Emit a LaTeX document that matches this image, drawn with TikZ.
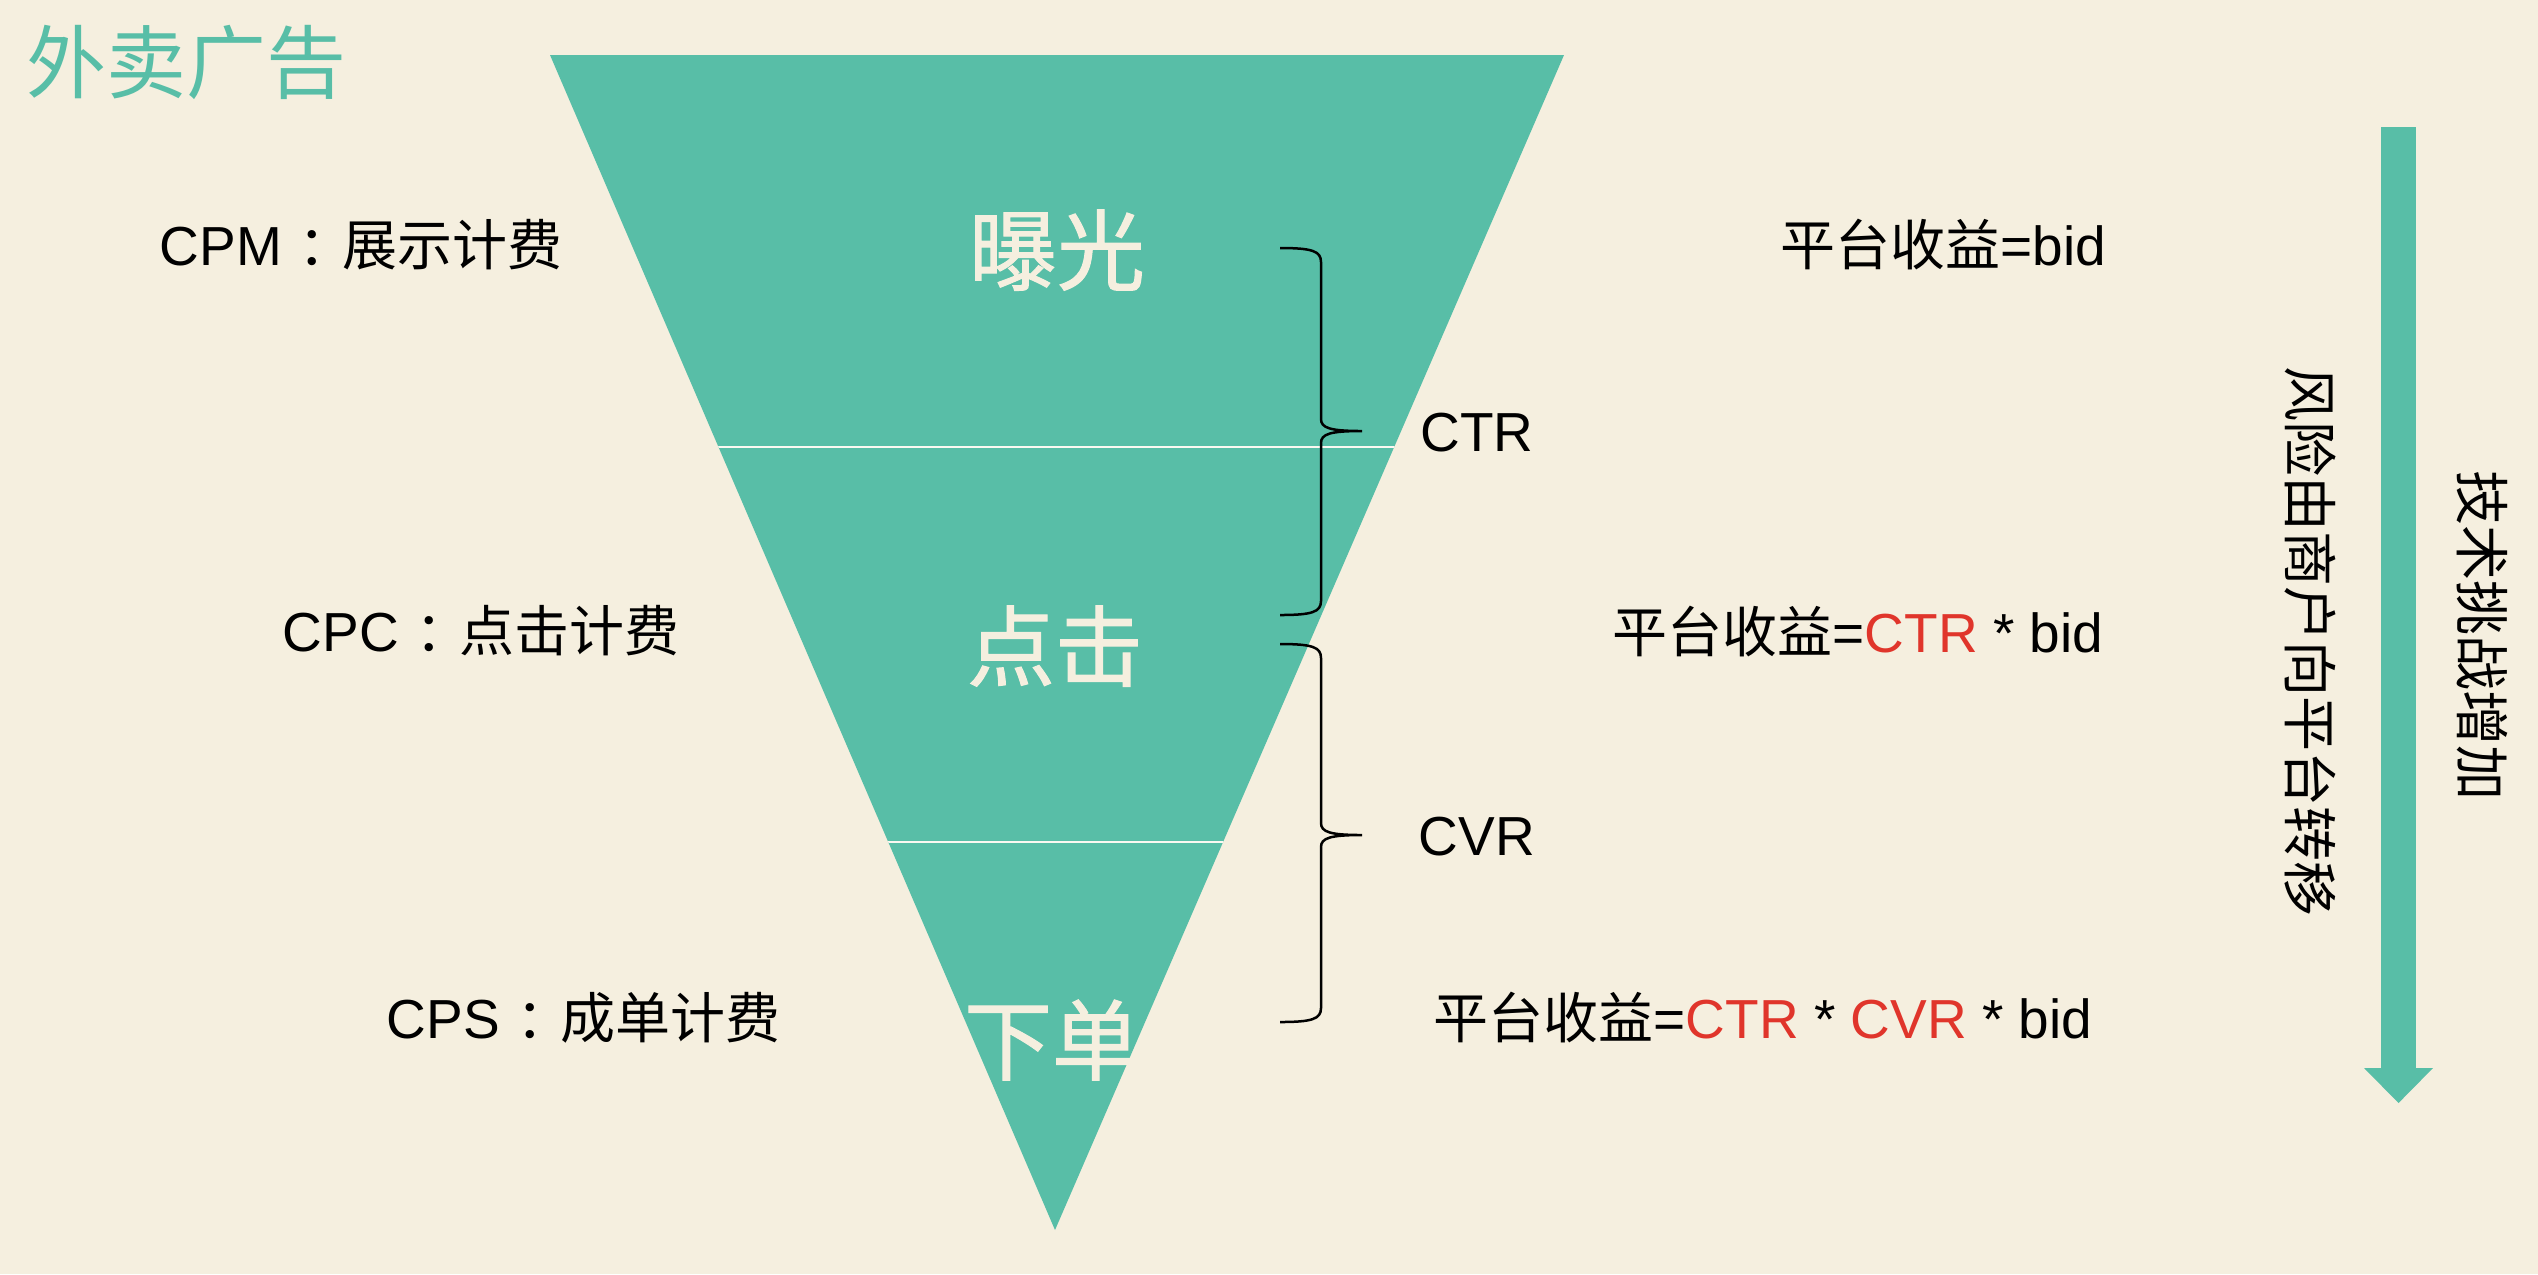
\documentclass[tikz,border=0pt]{standalone}
\usepackage{fontspec}
\setmainfont{Liberation Sans}
\newfontfamily\cjk{Noto Sans CJK SC}
\newfontfamily\cjkb{Noto Sans CJK SC}[FakeBold=1.2]
\definecolor{tealc}{HTML}{58BEA7}
\definecolor{bgc}{HTML}{F5EFDF}
\definecolor{redc}{HTML}{E0352B}
\newcommand{\fwcolon}{\hspace{0.3em}{\cjk ：}\hspace{-0.2em}}
\tikzset{
  lbl/.style={inner sep=0pt, font=\fontsize{16.5}{18}\selectfont, text=black},
  stage/.style={inner sep=0pt, font=\cjkb\fontsize{26.4}{28}\selectfont, text=bgc},
  brc/.style={draw=black, line width=0.75pt},
  sep/.style={draw=bgc!40!white, line width=0.6pt},
}
\begin{document}
\begin{tikzpicture}[x=0.3pt,y=-0.3pt]
\fill[bgc] (0,0) rectangle (2538,1274);
\useasboundingbox (0,0) rectangle (2538,1274);
% title
\node[inner sep=0pt, font=\cjk\fontsize{24}{26}\selectfont, text=tealc] (title) at (186,62) {外卖广告};
% funnel
\coordinate (TL) at (550,55);
\coordinate (TR) at (1564,55);
\coordinate (B) at (1055,1230);
\fill[tealc] (TL) -- (TR) -- (B) -- cycle;
\begin{scope}
\clip (TL) -- (TR) -- (B) -- cycle;
\coordinate (s1a) at (500,447);
\coordinate (s1b) at (1600,447);
\coordinate (s2a) at (500,842);
\coordinate (s2b) at (1600,842);
\draw[sep] (s1a) -- (s1b);
\draw[sep] (s2a) -- (s2b);
\end{scope}
\node[stage] (exp) at (1057,250) {曝光};
\node[stage] (clk) at (1055,646) {点击};
\node[stage] (ord) at (1052,1040) {下单};
% left labels
\node[lbl, anchor=east] (cpm) at (563,245) {CPM\fwcolon{\cjk 展示计费}};
\node[lbl, anchor=east] (cpc) at (680,631) {CPC\fwcolon{\cjk 点击计费}};
\node[lbl, anchor=east] (cps) at (781,1018) {CPS\fwcolon{\cjk 成单计费}};
% braces
\coordinate (b1t) at (1280,248);
\coordinate (b1m) at (1362,431);
\coordinate (b1b) at (1280,615);
\draw[brc] (b1t) .. controls (1312,248) and (1321,251) .. (1321,262) -- (1321,419)
  .. controls (1321,428) and (1330,431) .. (b1m)
  .. controls (1330,431) and (1321,434) .. (1321,443) -- (1321,601)
  .. controls (1321,612) and (1312,615) .. (b1b);
\coordinate (b2t) at (1280,644);
\coordinate (b2m) at (1362,835);
\coordinate (b2b) at (1280,1022);
\draw[brc] (b2t) .. controls (1312,644) and (1321,647) .. (1321,658) -- (1321,823)
  .. controls (1321,832) and (1330,835) .. (b2m)
  .. controls (1330,835) and (1321,838) .. (1321,847) -- (1321,1008)
  .. controls (1321,1019) and (1312,1022) .. (b2b);
\node[lbl] (ctr) at (1477,433) {CTR};
\node[lbl] (cvr) at (1477,837) {CVR};
% revenue formulas
\node[lbl, anchor=east] (r1) at (2107,244) {{\cjk 平台收益}=bid};
\node[lbl, anchor=east] (r2) at (2104,631) {{\cjk 平台收益}=\textcolor{redc}{CTR} * bid};
\node[lbl, anchor=east] (r3) at (2093,1017) {{\cjk 平台收益}=\textcolor{redc}{CTR} * \textcolor{redc}{CVR} * bid};
% arrow
\coordinate (a1) at (2381,127);
\coordinate (a2) at (2416,1068);
\fill[tealc] (a1) rectangle (a2);
\coordinate (h1) at (2364,1068);
\coordinate (h2) at (2433,1068);
\coordinate (h3) at (2398.5,1103);
\fill[tealc] (h1) -- (h2) -- (h3) -- cycle;
% vertical texts
\node[lbl, font=\cjk\fontsize{16.5}{18}\selectfont, rotate=-90] (risk) at (2310,641) {风险由商户向平台转移};
\node[lbl, font=\cjk\fontsize{16.5}{18}\selectfont, rotate=-90] (tech) at (2482,635) {技术挑战增加};
\end{tikzpicture}
\end{document}
